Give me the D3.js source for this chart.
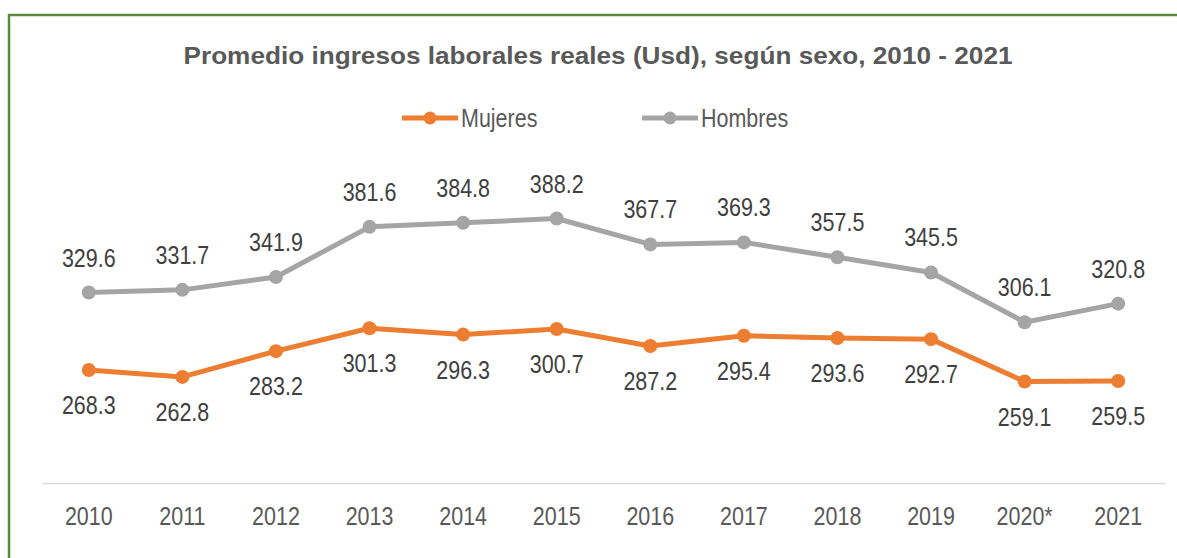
<!DOCTYPE html>
<html>
<head>
<meta charset="utf-8">
<script src="https://cdn.jsdelivr.net/npm/d3@7"></script>
<style>
  body { margin: 0; background: #fff; }
  svg { display: block; }
  .lbl { font-family: "Liberation Sans", Arial, sans-serif; }
</style>
</head>
<body>
<svg id="chart" width="1177" height="558"></svg>
<script>
const years = ["2010", "2011", "2012", "2013", "2014", "2015", "2016", "2017", "2018", "2019", "2020*", "2021"];
const mujeres = [268.3, 262.8, 283.2, 301.3, 296.3, 300.7, 287.2, 295.4, 293.6, 292.7, 259.1, 259.5];
const hombres = [329.6, 331.7, 341.9, 381.6, 384.8, 388.2, 367.7, 369.3, 357.5, 345.5, 306.1, 320.8];
const seriesNames = ["Mujeres", "Hombres"];
const colors = ["#ED7D31", "#A5A5A5"];

const svg = d3.select("#chart");
const narrow = 0.86; // the original uses a condensed face

// green frame (left + top)
svg.append("path")
  .attr("d", "M9,558 V15 H1177")
  .attr("fill", "none")
  .attr("stroke", "#5B8A3A")
  .attr("stroke-width", 2.5);

svg.append("text")
  .attr("x", 598).attr("y", 64)
  .attr("text-anchor", "middle")
  .attr("font-family", "Liberation Sans, Arial, sans-serif")
  .attr("font-weight", "bold")
  .attr("font-size", 24)
  .attr("fill", "#595959")
  .attr("textLength", 829)
  .attr("lengthAdjust", "spacingAndGlyphs")
  .text("Promedio ingresos laborales reales (Usd), según sexo, 2010 - 2021");

const x = d3.scaleBand().domain(years).range([42, 1165]);
const y = d3.scaleLinear().domain([178, 400]).range([484, 203.6]);
const cx = d => x(d) + x.bandwidth() / 2;

// axis
const xAxis = svg.append("g")
  .attr("transform", "translate(0,483)")
  .call(d3.axisBottom(x).tickSize(0).tickPadding(0));
xAxis.select(".domain").attr("stroke", "#D9D9D9").attr("stroke-width", 1.5);
xAxis.selectAll(".tick text")
  .attr("class", "lbl")
  .attr("y", 0).attr("dy", 0)
  .attr("transform", `translate(0,42) scale(${narrow},1)`)
  .attr("font-size", 25)
  .attr("fill", "#595959");

// legend
const legendX = [402, 642];
seriesNames.forEach((name, i) => {
  const g = svg.append("g").attr("transform", `translate(${legendX[i]},118)`);
  g.append("line").attr("x1", 0).attr("x2", 56).attr("stroke", colors[i]).attr("stroke-width", 5);
  g.append("circle").attr("cx", 28).attr("r", 6.5).attr("fill", colors[i]);
  g.append("text").attr("class", "lbl")
    .attr("transform", `translate(59,9) scale(${narrow},1)`)
    .attr("font-size", 25).attr("fill", "#595959").text(name);
});

const line = d3.line().x((d, i) => cx(years[i])).y(d => y(d));
const data = [mujeres, hombres];

data.forEach((vals, s) => {
  svg.append("path")
    .datum(vals)
    .attr("d", line)
    .attr("fill", "none")
    .attr("stroke", colors[s])
    .attr("stroke-width", 5)
    .attr("stroke-linejoin", "round");

  svg.selectAll(null)
    .data(vals)
    .enter()
    .append("circle")
    .attr("cx", (d, i) => cx(years[i]))
    .attr("cy", d => y(d))
    .attr("r", 7)
    .attr("fill", colors[s]);

  svg.selectAll(null)
    .data(vals)
    .enter()
    .append("text")
    .attr("class", "lbl")
    .attr("transform", (d, i) => `translate(${cx(years[i])},${s === 0 ? y(d) + 44 : y(d) - 26}) scale(${narrow},1)`)
    .attr("text-anchor", "middle")
    .attr("font-size", 25)
    .attr("fill", "#404040")
    .text(d => d.toFixed(1));
});
</script>
</body>
</html>
